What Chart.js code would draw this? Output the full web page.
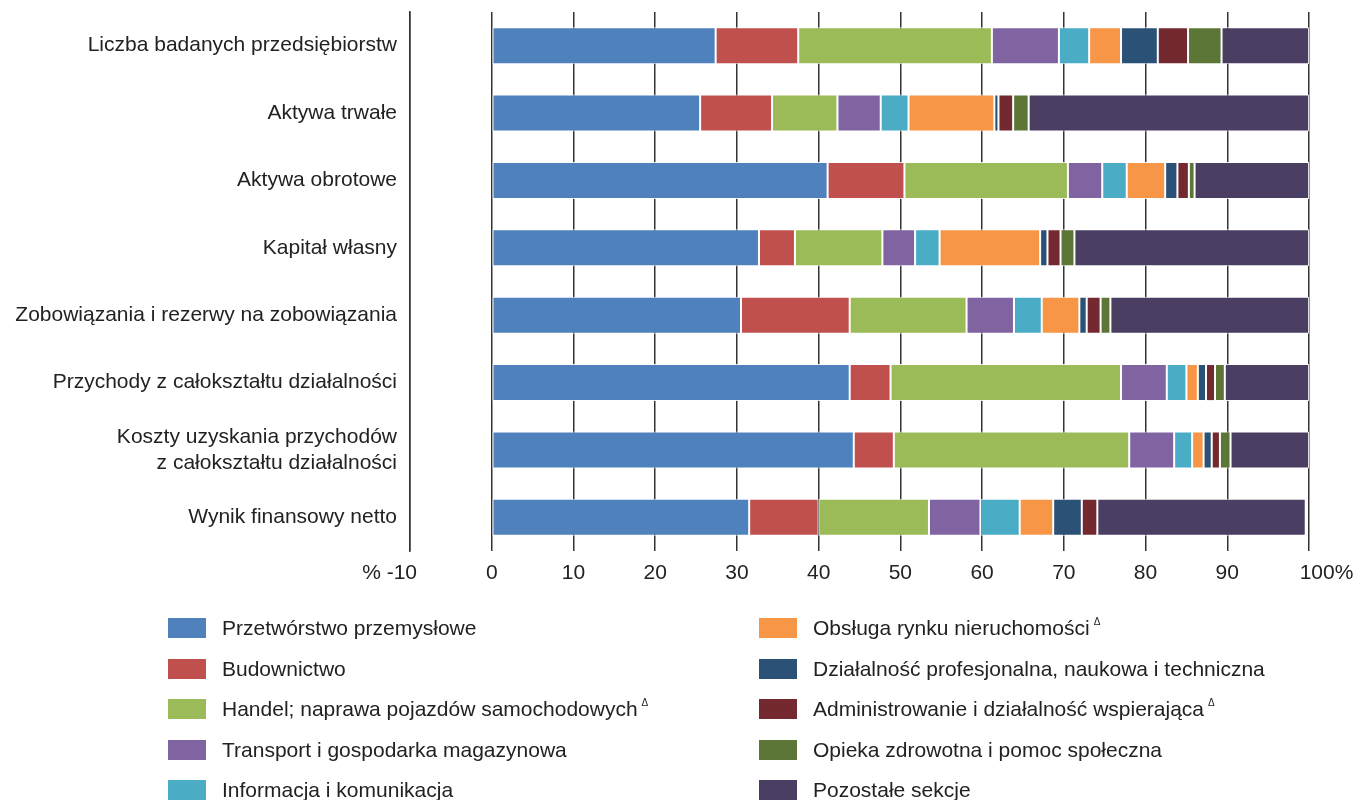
<!DOCTYPE html>
<html>
<head>
<meta charset="utf-8">
<script src="https://cdn.jsdelivr.net/npm/chart.js@4.4.0/dist/chart.umd.min.js"></script>
<style>
  body{margin:0;background:#fff;font-family:"Liberation Sans",Arial,sans-serif;color:#222;}
  #wrap{position:relative;width:1370px;height:600px;}
  #legend{position:absolute;left:0;top:0;width:1370px;height:800px;pointer-events:none;}
  .item{position:absolute;height:20px;font-size:21px;line-height:20px;white-space:nowrap;}
  .box{position:absolute;left:0;top:0;width:38px;height:20px;}
  .txt{position:absolute;left:54px;top:0;}
  .txt sup{font-size:10px;line-height:0;vertical-align:baseline;position:relative;top:-10px;margin-left:4px;}
</style>
</head>
<body>
<div id="wrap"><canvas id="myChart"></canvas></div>
<div id="legend"></div>
<script>
var categories = [
  'Liczba badanych przedsiębiorstw',
  'Aktywa trwałe',
  'Aktywa obrotowe',
  'Kapitał własny',
  'Zobowiązania i rezerwy na zobowiązania',
  'Przychody z całokształtu działalności',
  ['Koszty uzyskania przychodów', 'z całokształtu działalności'],
  'Wynik finansowy netto'
]

var sectionNames = [
  'Przetwórstwo przemysłowe',
  'Budownictwo',
  'Handel; naprawa pojazdów samochodowych Δ',
  'Transport i gospodarka magazynowa',
  'Informacja i komunikacja',
  'Obsługa rynku nieruchomości Δ',
  'Działalność profesjonalna, naukowa i techniczna',
  'Administrowanie i działalność wspierająca Δ',
  'Opieka zdrowotna i pomoc społeczna',
  'Pozostałe sekcje'
]

var sectionColors = ['#4F81BD','#C0504D','#9BBB59','#8064A2','#4BACC6','#F79646','#2B5177','#73292F','#5B7636','#4A3E63']

// share in %, one array per section, in order of categories
var przetworstwo   = [27.4, 25.5, 41.1, 32.7, 30.5, 43.8, 44.3, 31.5]
var budownictwo    = [10.1,  8.8,  9.4,  4.4, 13.3,  5.0,  4.9,  8.5]
var handel         = [23.7,  8.0, 20.0, 10.7, 14.3, 28.2, 28.8, 13.5]
var transport      = [ 8.2,  5.3,  4.2,  4.0,  5.8,  5.6,  5.5,  6.3]
var informacja     = [ 3.7,  3.4,  3.0,  3.0,  3.4,  2.4,  2.2,  4.8]
var nieruchomosci  = [ 3.9, 10.5,  4.7, 12.3,  4.6,  1.4,  1.4,  4.1]
var profesjonalna  = [ 4.5,  0.5,  1.5,  0.9,  0.9,  1.0,  1.0,  3.5]
var administrowanie= [ 3.7,  1.8,  1.4,  1.6,  1.7,  1.1,  1.0,  1.9]
var opieka         = [ 4.1,  1.9,  0.7,  1.7,  1.2,  1.2,  1.3,  0.0]
var pozostale      = [10.7, 34.3, 14.0, 28.7, 24.3, 10.3,  9.6, 25.5]

var seriesValues = [przetworstwo,budownictwo,handel,transport,informacja,nieruchomosci,profesjonalna,administrowanie,opieka,pozostale]

var xTicks = [-10, 0, 10, 20, 30, 40, 50, 60, 70, 80, 90, 100]

var datasets = seriesValues.map((vals, i) => ({
  label: sectionNames[i],
  data: vals,
  backgroundColor: sectionColors[i],
  borderColor: 'rgba(255,255,255,0.85)',
  borderWidth: 1,
  borderSkipped: false,
  barPercentage: 0.55,
  categoryPercentage: 1
}))

Chart.defaults.font.family = '"Liberation Sans", Arial, sans-serif'
Chart.defaults.color = '#222'

var ctx = document.getElementById('myChart').getContext('2d')
var chart = new Chart(ctx, {
  type: 'bar',
  data: {labels: categories, datasets: datasets},
  options: {
    indexAxis: 'y',
    responsive: true,
    maintainAspectRatio: false,
    animation: false,
    layout: {padding: {top: 12, right: 61, left: 0, bottom: 0}},
    plugins: {legend: {display: false}, tooltip: {enabled: false}},
    scales: {
      x: {
        stacked: true,
        min: -10,
        max: 100,
        afterBuildTicks: function(scale){ scale.ticks = xTicks.map(v => ({value: v})) },
        afterFit: function(scale){ scale.height = 49; scale.paddingLeft = 0; scale.paddingRight = 0 },
        border: {display: false},
        grid: {color: '#333', lineWidth: 1.5, drawTicks: false},
        ticks: {
          padding: 10,
          maxRotation: 0,
          minRotation: 0,
          autoSkip: false,
          font: {size: 21},
          callback: function(v){
            // the % sign sits outside the numbers, so shift these two labels
            if(v === -10) return '% -10       '
            if(v === 100) return '      100%'
            return v
          }
        }
      },
      y: {
        stacked: true,
        afterFit: function(scale){ scale.width = 410; scale.paddingTop = 0; scale.paddingBottom = 0 },
        border: {display: true, color: '#333', width: 1.5},
        grid: {display: false, drawTicks: false},
        ticks: {padding: 13, font: {size: 21, lineHeight: 1.25}}
      }
    }
  }
})

// legend in two columns, filled column by column
var legendHtml = ''
sectionNames.forEach((name, i) => {
  let col = Math.floor(i / 5)
  let row = i % 5
  let left = col === 0 ? 168 : 759
  let top = 618 + row * 40.5
  let txt = name.replace(' Δ', '<sup>Δ</sup>')
  legendHtml += `<div class="item" style="left:${left}px;top:${top}px">
    <span class="box" style="background:${sectionColors[i]}"></span>
    <span class="txt">${txt}</span></div>`
})
document.getElementById('legend').innerHTML = legendHtml
</script>
</body>
</html>
